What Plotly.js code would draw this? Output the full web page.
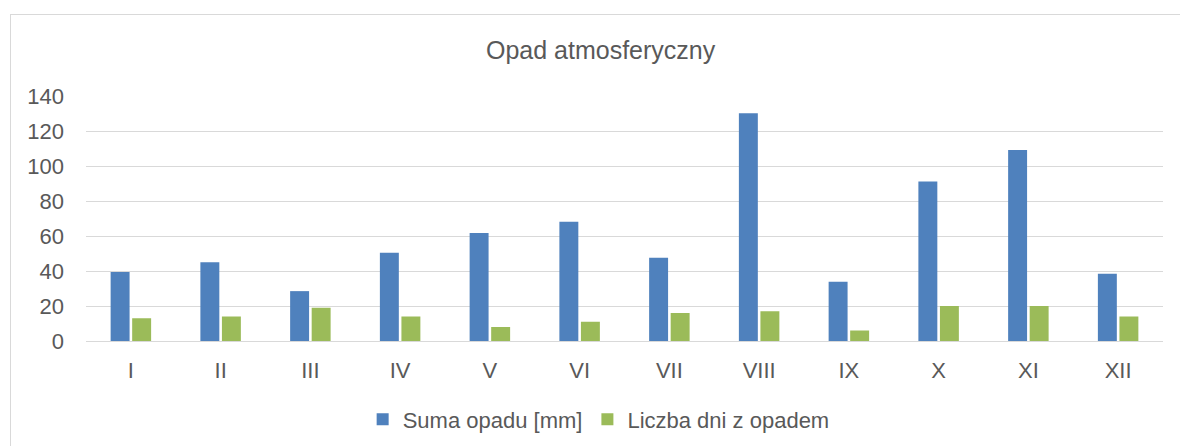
<!DOCTYPE html>
<html>
<head>
<meta charset="utf-8">
<script src="https://cdn.plot.ly/plotly-3.0.1.min.js"></script>
<style>
html,body{margin:0;padding:0;background:#fff;}
#frame{position:absolute;left:10px;top:14px;width:1200px;height:460px;border:1px solid #d9d9d9;box-sizing:border-box;}
#chart{position:absolute;left:0;top:0;width:1180px;height:446px;}
</style>
</head>
<body>
<div id="frame"></div>
<div id="chart"></div>
<script>
var months = ["I","II","III","IV","V","VI","VII","VIII","IX","X","XI","XII"];
var sumaOpadu = [39.5, 45, 28.5, 50.5, 61.7, 68.2, 47.6, 130.2, 33.9, 91.2, 109.1, 38.4];
var dniZOpadem = [13, 14, 19, 14, 8, 11, 16, 17, 6, 20, 20, 14];
var seriesNames = ["Suma opadu [mm]", "Liczba dni z opadem"];
var yTicks = [0, 20, 40, 60, 80, 100, 120, 140];

var font = "Liberation Sans, Arial, sans-serif";
var grey = "#595959";

var traces = [
  {type:"bar", x:months, y:sumaOpadu, name:seriesNames[0], marker:{color:"#4f81bd"}, hoverinfo:"x+y"},
  {type:"bar", x:months, y:dniZOpadem, name:seriesNames[1], marker:{color:"#9bbb59"}, hoverinfo:"x+y"}
];

var layout = {
  width:1180, height:446,
  paper_bgcolor:"rgba(0,0,0,0)", plot_bgcolor:"rgba(0,0,0,0)",
  margin:{l:86, r:17, t:96, b:105, autoexpand:false},
  title:{text:"Opad atmosferyczny", font:{family:font, size:25, color:grey}, x:0.509, xanchor:"center", y:0.887, yanchor:"middle"},
  barmode:"group", bargap:0.52, bargroupgap:0.12,
  xaxis:{type:"category", showgrid:false, zeroline:false, showline:false, ticks:"", automargin:false,
         tickfont:{family:font, size:22, color:grey}, ticklabelstandoff:14, fixedrange:true},
  yaxis:{range:[0,140], tickvals:yTicks, ticktext:yTicks.map(String), showgrid:true, gridcolor:"#d9d9d9", gridwidth:1,
         zeroline:true, zerolinecolor:"#d9d9d9", zerolinewidth:1, showline:false, ticks:"", automargin:false,
         tickfont:{family:font, size:22, color:grey}, ticklabelstandoff:21, fixedrange:true},
  showlegend:true,
  legend:{orientation:"h", x:0.476, xanchor:"center", y:-0.32, yanchor:"middle",
          font:{family:font, size:22, color:grey}, itemwidth:30, bgcolor:"rgba(0,0,0,0)"}
};

Plotly.newPlot("chart", traces, layout, {displayModeBar:false, staticPlot:true});
</script>
</body>
</html>
